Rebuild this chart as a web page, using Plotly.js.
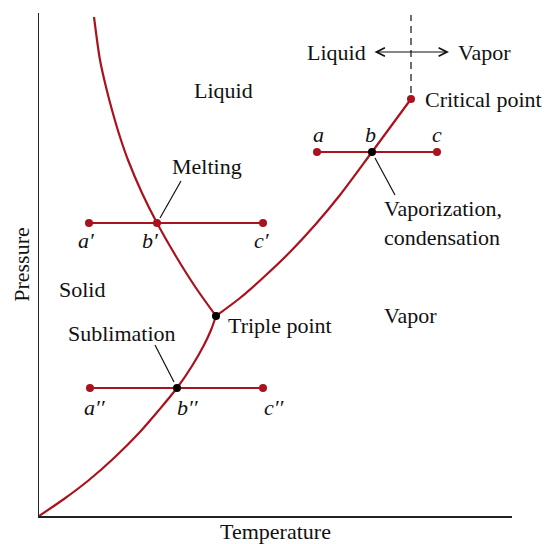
<!DOCTYPE html>
<html>
<head>
<meta charset="utf-8">
<script src="https://cdn.plot.ly/plotly-3.0.1.min.js"></script>
<style>html,body{margin:0;padding:0;background:#fff;}#chart{width:545px;height:544px;}</style>
</head>
<body>
<div id="chart"></div>
<script>
// Phase boundaries (arbitrary temperature / pressure units)
const sublimationT = [0, 25, 50, 75, 100, 120, 138, 153, 165, 172, 177];
const sublimationP = [0, 17, 36, 58, 83, 106, 128, 150, 171, 186, 200];
const meltingT = [177, 157, 138, 118, 103, 89, 81, 73, 67, 61, 55];
const meltingP = [200, 228, 258, 293, 323, 356, 379, 406, 429, 456, 499];
const vaporT = [177, 201, 226, 251, 276, 301, 333, 372];
const vaporP = [200, 218, 240, 264, 291, 321, 364, 417];

// Isobaric processes: a-b-c
const isobarNames = ["", "′", "′′"];
const isobarP = [364, 293, 128];
const isobarStartT = [278, 50, 51];
const isobarMidT = [333, 118, 138];
const isobarEndT = [398, 224, 224];

// Special points
const triplePoint = {T: 177, P: 200};
const criticalPoint = {T: 372, P: 417};
const axisTopP = 501;

const RED = "#a8131d";
const FONT = "Liberation Serif, Times New Roman, serif";
const FS = 22;

const traces = [];
const curveLine = {color: RED, width: 2.2, shape: "spline", smoothing: 0.8};
traces.push({x: sublimationT, y: sublimationP, mode: "lines", line: curveLine, hoverinfo: "skip"});
traces.push({x: meltingT, y: meltingP, mode: "lines", line: curveLine, hoverinfo: "skip"});
traces.push({x: vaporT, y: vaporP, mode: "lines", line: curveLine, hoverinfo: "skip"});

// isobar lines with end dots
for (let i = 0; i < isobarP.length; i++) {
  traces.push({
    x: [isobarStartT[i], isobarEndT[i]], y: [isobarP[i], isobarP[i]],
    mode: "lines+markers", line: {color: RED, width: 2.2},
    marker: {color: RED, size: 8}, hoverinfo: "skip"
  });
}
// midpoints: b' is red (on melting line), b and b'' black
const midColors = ["#000", RED, "#000"];
traces.push({
  x: isobarMidT, y: isobarP, mode: "markers",
  marker: {color: midColors, size: 8}, hoverinfo: "skip"
});
traces.push({x: [triplePoint.T], y: [triplePoint.P], mode: "markers", marker: {color: "#000", size: 8}, hoverinfo: "skip"});
traces.push({x: [criticalPoint.T], y: [criticalPoint.P], mode: "markers", marker: {color: RED, size: 8}, hoverinfo: "skip"});

function txt(text, x, y, opts) {
  return Object.assign({
    text: text, x: x, y: y, xref: "x", yref: "y", showarrow: false,
    font: {family: FONT, size: FS, color: "#111"}, xanchor: "center", yanchor: "middle"
  }, opts || {});
}
const ann = [];
ann.push(txt("Liquid", 184, 426));
ann.push(txt("Solid", 43, 227));
ann.push(txt("Vapor", 371, 201));
ann.push(txt("Triple point", 187, 191, {xanchor: "left"}));
ann.push(txt("Critical point", 384, 417, {xanchor: "left"}));
ann.push(txt("Melting", 168, 350));
ann.push(txt("Sublimation", 83, 183));
ann.push(txt("Vaporization,<br>condensation", 343, 293, {xanchor: "left", align: "left"}));
ann.push(txt("Liquid", 297, 464));
ann.push(txt("Vapor", 445, 464));

// a b c labels
const letterOffsets = [18, -17, -19];
const letters = ["a", "b", "c"];
const letterT = [[279, 331, 398], [47, 111, 223], [56, 149, 235]];
for (let i = 0; i < isobarP.length; i++) {
  for (let j = 0; j < 3; j++) {
    ann.push(txt("<i>" + letters[j] + isobarNames[i] + "</i>", letterT[i][j], isobarP[i] + letterOffsets[i]));
  }
}

// double arrow Liquid <-> Vapor
ann.push({x: 410, y: 464, ax: 334, ay: 464, xref: "x", yref: "y", axref: "x", ayref: "y",
  text: "", showarrow: true, arrowhead: 5, startarrowhead: 5, arrowside: "end+start",
  arrowwidth: 1.2, arrowsize: 1.4, startarrowsize: 1.4, arrowcolor: "#111"});

const shapes = [
  // dashed line above critical point
  {type: "line", xref: "x", yref: "y", x0: criticalPoint.T, x1: criticalPoint.T, y0: criticalPoint.P + 6, y1: axisTopP,
    line: {color: "#222", width: 1.3, dash: "7px,5px"}},
  // leader lines
  {type: "line", xref: "x", yref: "y", x0: 121, y0: 298, x1: 142, y1: 335, line: {color: "#111", width: 1.2}},
  {type: "line", xref: "x", yref: "y", x0: 135, y0: 134, x1: 116, y1: 171, line: {color: "#111", width: 1.2}},
  {type: "line", xref: "x", yref: "y", x0: 336, y0: 358, x1: 356, y1: 321, line: {color: "#111", width: 1.2}}
];

const layout = {
  width: 545, height: 544,
  margin: {l: 39, r: 33, t: 13, b: 28},
  paper_bgcolor: "#fff", plot_bgcolor: "#fff",
  showlegend: false,
  font: {family: FONT, size: FS, color: "#111"},
  xaxis: {range: [0, 473], showline: true, linecolor: "#222", linewidth: 1.5, showgrid: false,
    zeroline: false, showticklabels: false, ticks: "", fixedrange: true,
    title: {text: "Temperature", font: {family: FONT, size: FS, color: "#111"}, standoff: 7}},
  yaxis: {range: [0, 503], showline: true, linecolor: "#222", linewidth: 1.5, showgrid: false,
    zeroline: false, showticklabels: false, ticks: "", fixedrange: true,
    title: {text: "Pressure", font: {family: FONT, size: FS, color: "#111"}, standoff: 2}},
  annotations: ann,
  shapes: shapes
};

Plotly.newPlot("chart", traces, layout, {displayModeBar: false, staticPlot: true});
</script>
</body>
</html>
